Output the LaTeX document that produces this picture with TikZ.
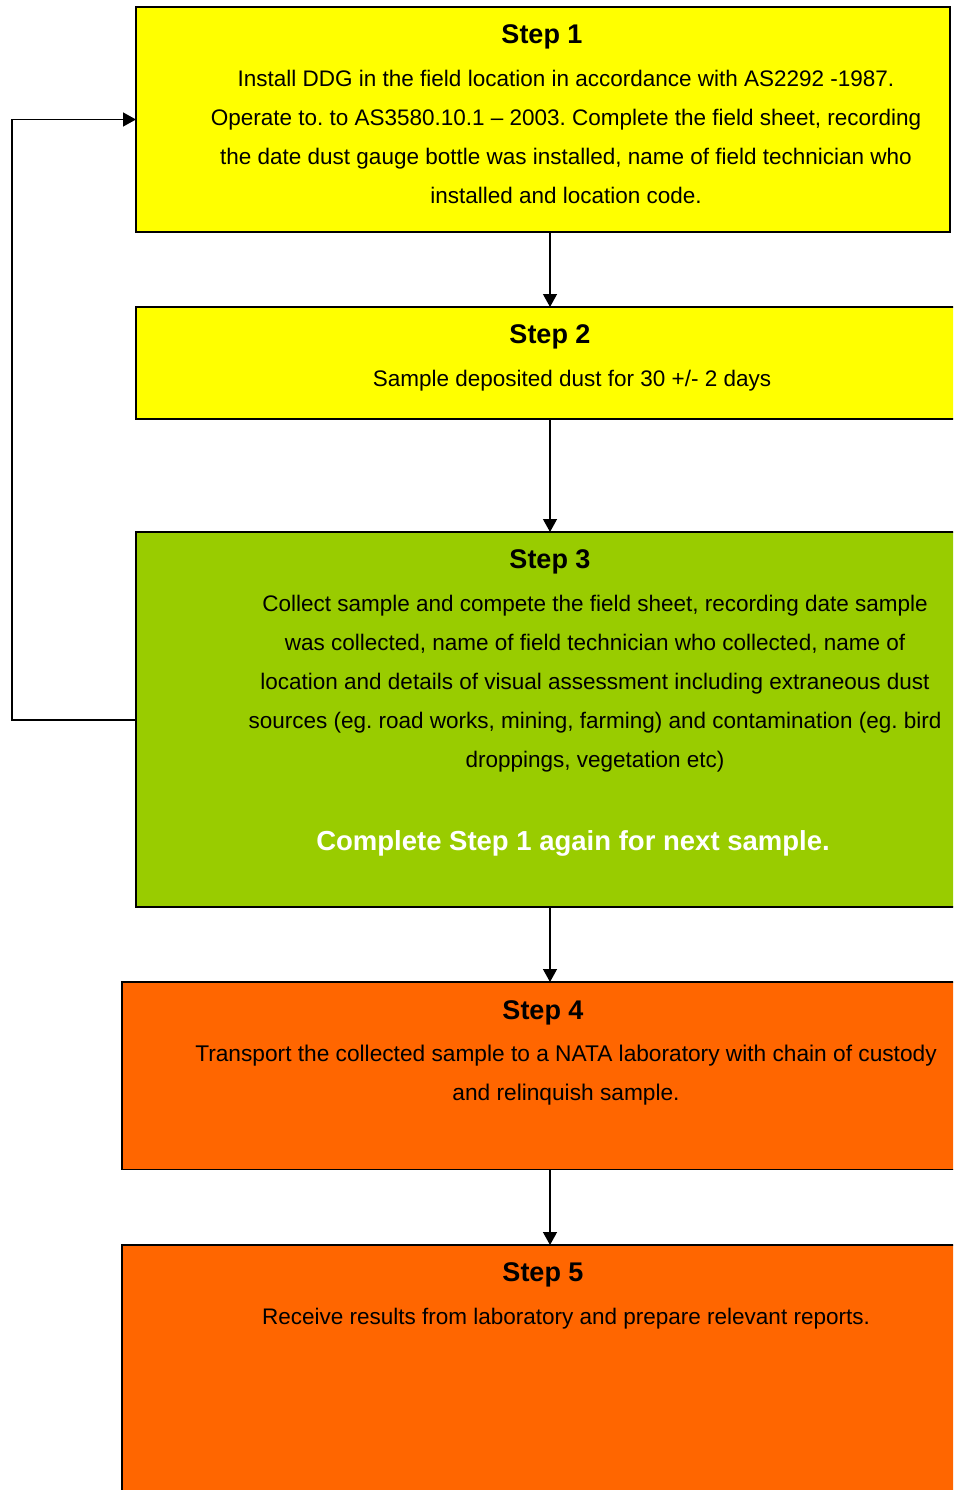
\documentclass[tikz,border=0pt]{standalone}
\usepackage{fontspec}
\setmainfont{Liberation Sans}
\usetikzlibrary{arrows.meta}
\frenchspacing
\definecolor{boxyellow}{HTML}{FFFF00}
\definecolor{boxgreen}{HTML}{99CC00}
\definecolor{boxorange}{HTML}{FF6600}
\tikzset{
  stepbox/.style={draw=black, line width=1.3pt, inner sep=0pt, outer sep=0pt, rectangle},
  steptitle/.style={font=\fontsize{27}{32}\selectfont\bfseries, inner sep=0pt},
  stepbody/.style={font=\fontsize{22.5}{39}\selectfont, align=center, inner sep=0pt},
  arr/.style={line width=1.3pt, -{Triangle[length=13pt,width=14pt]}},
}
\begin{document}
\begin{tikzpicture}[x=1pt,y=-1pt]
\useasboundingbox (0,0) rectangle (953,1490);
\fill[white] (0,0) rectangle (953,1490);
\clip (0,0) rectangle (953,1490);
% boxes
\node[stepbox, fill=boxyellow, minimum width=814pt, minimum height=225pt] (s1) at (543,119.5) {};
\node[stepbox, fill=boxyellow, minimum width=834pt, minimum height=112pt] (s2) at (553,363) {};
\node[stepbox, fill=boxgreen, minimum width=834pt, minimum height=375pt] (s3) at (553,719.5) {};
\node[stepbox, fill=boxorange, minimum width=848pt, minimum height=187.5pt] (s4) at (546,1075.75) {};
\node[stepbox, fill=boxorange, minimum width=848pt, minimum height=265pt] (s5) at (546,1377.5) {};
% texts
\node[steptitle] (t1) at (542,36.5) {Step 1};
\node[stepbody] (b1) at (566,136.5) {Install DDG in the field location in accordance with AS2292 -1987.\\
Operate to. to AS3580.10.1 -- 2003. Complete the field sheet, recording\\
the date dust gauge bottle was installed, name of field technician who\\
installed and location code.};
\node[steptitle] (t2) at (550,336.5) {Step 2};
\node[stepbody] (b2) at (572,380.5) {Sample deposited dust for 30 +/- 2 days};
\node[steptitle] (t3) at (550,561.5) {Step 3};
\node[stepbody] (b3) at (595,683.5) {Collect sample and compete the field sheet, recording date sample\\
was collected, name of field technician who collected, name of\\
location and details of visual assessment including extraneous dust\\
sources (eg. road works, mining, farming) and contamination (eg. bird\\
droppings, vegetation etc)};
\node[steptitle, text=white, font=\fontsize{27.5}{32}\selectfont\bfseries] (c3) at (573,843.5) {Complete Step 1 again for next sample.};
\node[steptitle] (t4) at (543,1012.5) {Step 4};
\node[stepbody, font=\fontsize{22.7}{39}\selectfont] (b4) at (566,1075) {Transport the collected sample to a NATA laboratory with chain of custody\\
and relinquish sample.};
\node[steptitle] (t5) at (543,1274.5) {Step 5};
\node[stepbody] (b5) at (566,1318.5) {Receive results from laboratory and prepare relevant reports.};
% connectors
\coordinate (ax) at (550,0);
\coordinate (fb) at (12,720);
\draw[arr] (s1.south -| ax) -- (s2.north -| ax);
\draw[arr] (s2.south -| ax) -- (s3.north -| ax);
\draw[arr] (s3.south -| ax) -- (s4.north -| ax);
\draw[arr] (s4.south -| ax) -- (s5.north -| ax);
\draw[arr] (s3.west |- fb) -- (fb) |- (s1.west);
\end{tikzpicture}
\end{document}
